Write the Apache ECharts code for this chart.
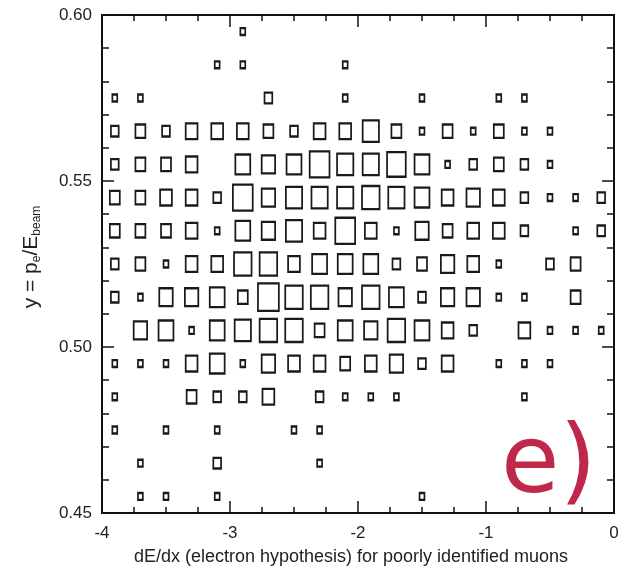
<!DOCTYPE html>
<html>
<head>
<meta charset="utf-8">
<script src="https://cdn.jsdelivr.net/npm/echarts@6/dist/echarts.min.js"></script>
<style>
html, body { margin: 0; padding: 0; background: #fff; }
#chart { width: 635px; height: 571px; }
</style>
</head>
<body>
<div id="chart"></div>
<script>
// bin centres of the 2D histogram
var xCenters = [-3.9, -3.7, -3.5, -3.3, -3.1, -2.9, -2.7, -2.5, -2.3, -2.1,
                -1.9, -1.7, -1.5, -1.3, -1.1, -0.9, -0.7, -0.5, -0.3, -0.1];
var yCenters = [0.595, 0.585, 0.575, 0.565, 0.555, 0.545, 0.535, 0.525,
                0.515, 0.505, 0.495, 0.485, 0.475, 0.465, 0.455];

// entries per bin, one row per y bin (top first), one column per x bin
var counts = [
  [0, 0, 0, 0, 0, 1, 0, 0, 0, 0,   0, 0, 0, 0, 0, 0, 0, 0, 0, 0],
  [0, 0, 0, 0, 1, 1, 0, 0, 0, 1,   0, 0, 0, 0, 0, 0, 0, 0, 0, 0],
  [1, 1, 0, 0, 0, 0, 2, 0, 0, 1,   0, 0, 1, 0, 0, 1, 1, 0, 0, 0],
  [2, 3, 2, 4, 4, 4, 3, 2, 4, 4,   7, 3, 1, 3, 1, 3, 1, 1, 0, 0],
  [2, 3, 3, 4, 0, 6, 5, 6, 10, 7,  7, 9, 6, 1, 2, 3, 2, 1, 0, 0],
  [3, 3, 4, 4, 2, 10, 5, 7, 7, 7,  8, 7, 6, 4, 5, 4, 2, 1, 1, 2],
  [3, 3, 3, 4, 1, 6, 5, 7, 4, 10,  4, 1, 5, 3, 4, 4, 2, 0, 1, 2],
  [2, 3, 1, 4, 4, 8, 8, 4, 6, 6,   6, 2, 3, 5, 4, 1, 0, 2, 3, 0],
  [2, 1, 5, 5, 6, 3, 11, 8, 8, 5,  8, 6, 2, 5, 5, 1, 1, 0, 3, 0],
  [0, 5, 6, 1, 6, 7, 8, 8, 3, 6,   5, 8, 6, 4, 2, 0, 4, 1, 1, 1],
  [1, 1, 1, 4, 6, 1, 5, 4, 4, 3,   4, 5, 2, 4, 0, 1, 1, 1, 0, 0],
  [1, 0, 0, 3, 2, 2, 4, 0, 2, 1,   1, 1, 0, 0, 0, 0, 1, 0, 0, 0],
  [1, 0, 1, 0, 1, 0, 0, 1, 1, 0,   0, 0, 0, 0, 0, 0, 0, 0, 0, 0],
  [0, 1, 0, 0, 2, 0, 0, 0, 1, 0,   0, 0, 0, 0, 0, 0, 0, 0, 0, 0],
  [0, 1, 1, 0, 1, 0, 0, 0, 0, 0,   0, 0, 1, 0, 0, 0, 0, 0, 0, 0]
];

var xLabel = 'dE/dx (electron hypothesis) for poorly identified muons';
var panelTag = 'e)';

var chart = echarts.init(document.getElementById('chart'));

// box side grows with sqrt of the content (pixels per sqrt(entry))
var boxUnitW = 6.9;
var boxUnitH = 8.9;
var font = 'Liberation Sans, Arial, sans-serif';

var boxData = [];
for (var r = 0; r < yCenters.length; r++) {
  for (var c = 0; c < xCenters.length; c++) {
    if (counts[r][c] > 0) {
      boxData.push([xCenters[c], yCenters[r], counts[r][c]]);
    }
  }
}

function frameAxis(extra) {
  var a = {
    type: 'value',
    axisLine: { show: true, onZero: false, lineStyle: { color: '#111', width: 2 } },
    axisTick: { show: true, inside: true, length: 12, lineStyle: { color: '#111', width: 1.5 } },
    minorTick: { show: true, length: 6, lineStyle: { color: '#111', width: 1.5 } },
    splitLine: { show: false },
    minorSplitLine: { show: false }
  };
  for (var k in extra) a[k] = extra[k];
  return a;
}

var option = {
  animation: false,
  backgroundColor: '#fff',
  grid: { left: 102, right: 21, top: 15, bottom: 56 },
  xAxis: [
    frameAxis({
      position: 'bottom', min: -4, max: 0, interval: 1,
      minorTick: { show: true, splitNumber: 4, length: 6, lineStyle: { color: '#111', width: 1.5 } },
      axisLabel: { show: true, margin: 12, fontSize: 17, color: '#222', fontFamily: font },
      name: xLabel, nameLocation: 'middle', nameGap: 35,
      nameTextStyle: { fontSize: 18, color: '#222', fontFamily: font, padding: [0, 14, 0, 0] }
    }),
    frameAxis({
      position: 'top', min: -4, max: 0, interval: 1,
      minorTick: { show: true, splitNumber: 4, length: 6, lineStyle: { color: '#111', width: 1.5 } },
      axisLabel: { show: false }
    })
  ],
  yAxis: [
    frameAxis({
      position: 'left', min: 0.45, max: 0.6, interval: 0.05,
      minorTick: { show: true, splitNumber: 5, length: 7, lineStyle: { color: '#111', width: 1.5 } },
      axisLabel: {
        show: true, margin: 10, fontSize: 17, color: '#222', fontFamily: font,
        formatter: function (v) { return v.toFixed(2); }
      }
    }),
    frameAxis({
      position: 'right', min: 0.45, max: 0.6, interval: 0.05,
      minorTick: { show: true, splitNumber: 5, length: 7, lineStyle: { color: '#111', width: 1.5 } },
      axisLabel: { show: false }
    })
  ],
  series: [
    {
      type: 'scatter',
      xAxisIndex: 0,
      yAxisIndex: 0,
      symbol: 'rect',
      symbolSize: function (v) {
        var s = Math.sqrt(v[2]);
        return [boxUnitW * s - 2, boxUnitH * s - 2];
      },
      itemStyle: { color: 'rgba(0,0,0,0)', borderColor: '#1a1a1a', borderWidth: 2, opacity: 1 },
      data: boxData
    }
  ],
  graphic: [
    {
      type: 'text',
      x: 31, y: 257,
      rotation: Math.PI / 2,
      style: {
        text: '{a|y = p}{s|e}{a|/E}{s|beam}',
        textAlign: 'center', textVerticalAlign: 'middle',
        align: 'center', verticalAlign: 'middle',
        rich: {
          a: { fontSize: 21, fontFamily: font, fill: '#222', color: '#222', verticalAlign: 'middle' },
          s: { fontSize: 12, fontFamily: font, fill: '#222', color: '#222', verticalAlign: 'bottom', padding: [12, 0, 0, 0] }
        }
      }
    },
    {
      type: 'text',
      x: 501, y: 515,
      style: {
        text: panelTag,
        fill: '#c0284b',
        font: '95px "DejaVu Sans", sans-serif',
        textAlign: 'left', textVerticalAlign: 'bottom',
        align: 'left', verticalAlign: 'bottom'
      }
    }
  ]
};

chart.setOption(option);
</script>
</body>
</html>
